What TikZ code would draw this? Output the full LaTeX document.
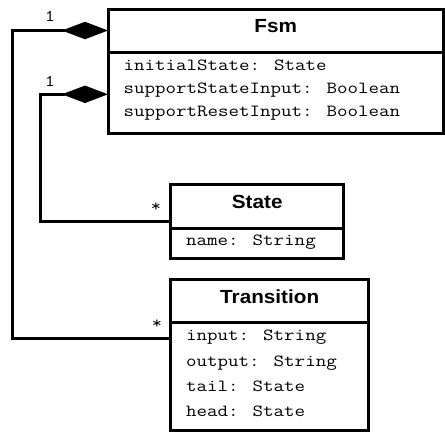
\documentclass[tikz,border=0pt]{standalone}
\usepackage{fontspec}
\usetikzlibrary{positioning, arrows.meta, calc}

\newfontfamily\headfont[FakeStretch=1.09]{Liberation Sans}
\newfontfamily\attrfont[FakeStretch=1.2]{Latin Modern Mono}

\begin{document}
\begin{tikzpicture}
[
    x=1pt, y=-1pt, line width=3pt,
    % Every class is made of two boxes: <Class>-h (name) and <Class>-b (attributes)
    % Attribute lines are named <Class>-a0, <Class>-a1, ...
]

%=================================== Start ===================================
\tikzstyle{cls}   = [draw, rectangle, anchor=north west, inner sep=0pt, outer sep=0pt]
\tikzstyle{title} = [font=\headfont\bfseries\fontsize{19}{23}\selectfont,
                     text height=14pt, text depth=10pt]
\tikzstyle{attr}  = [anchor=base west, inner sep=0pt,
                     font=\attrfont\fontsize{17}{20}\selectfont]
\tikzstyle{mult}  = [inner sep=0pt, font=\attrfont\fontsize{16.5}{19}\selectfont]
\tikzstyle{comp}  = [{Diamond[length=46pt, width=17.5pt, line width=0pt]}-]

\useasboundingbox (0,0) rectangle (445,432);

% Class: Fsm
\node[cls, title, minimum width=335.5, minimum height=43] (Fsm-h) at (108,9) {Fsm};
\node[cls, minimum width=335.5, minimum height=81.5] (Fsm-b) at (Fsm-h.south west) {};
\foreach \a [count=\i from 0] in {initialState: State,
                                  supportStateInput: Boolean,
                                  supportResetInput: Boolean}
    \node[attr] (Fsm-a\i) at ($(Fsm-b.north west)+(14,18.3+23.3*\i)$) {\a};

% Class: State
\node[cls, title, minimum width=173, minimum height=43.5] (State-h) at (170.7,184.5) {State};
\node[cls, minimum width=173, minimum height=30.7] (State-b) at (State-h.south west) {};
\node[attr] (State-a0) at ($(State-b.north west)+(14,17)$) {name: String};

% Class: Transition
\node[cls, title, minimum width=198, minimum height=42.6] (Transition-h) at (170.7,279.7) {Transition};
\node[cls, minimum width=198, minimum height=108] (Transition-b) at (Transition-h.south west) {};
\foreach \a [count=\i from 0] in {input: String, output: String,
                                  tail: State, head: State}
    \node[attr] (Transition-a\i) at ($(Transition-b.north west)+(14,18.4+25.3*\i)$) {\a};

% Composition lines, routed round the left side
\coordinate (outer) at (12.5,0);
\coordinate (inner) at (40.5,0);
\coordinate (State-in) at ($(State-h.south west)+(0,-6.7)$);
\coordinate (Transition-in) at ($(Transition-b.north west)+(0,16.4)$);
\coordinate (Fsm-s) at ($(Fsm-b.north west)+(0,42.3)$);

\draw[comp] (Fsm-h.west) -- (Fsm-h.west -| outer) |- (Transition-in);
\draw[comp] (Fsm-s) -- (Fsm-s -| inner) |- (State-in);

% Multiplicities
\node[mult] (m-trans-1) at (50,16.5) {1};
\node[mult] (m-state-1) at (50,81) {1};
\node[mult] (m-state-n) at (156,207) {*};
\node[mult] (m-trans-n) at (157,324) {*};
%==================================== END ====================================

\end{tikzpicture}
\end{document}
